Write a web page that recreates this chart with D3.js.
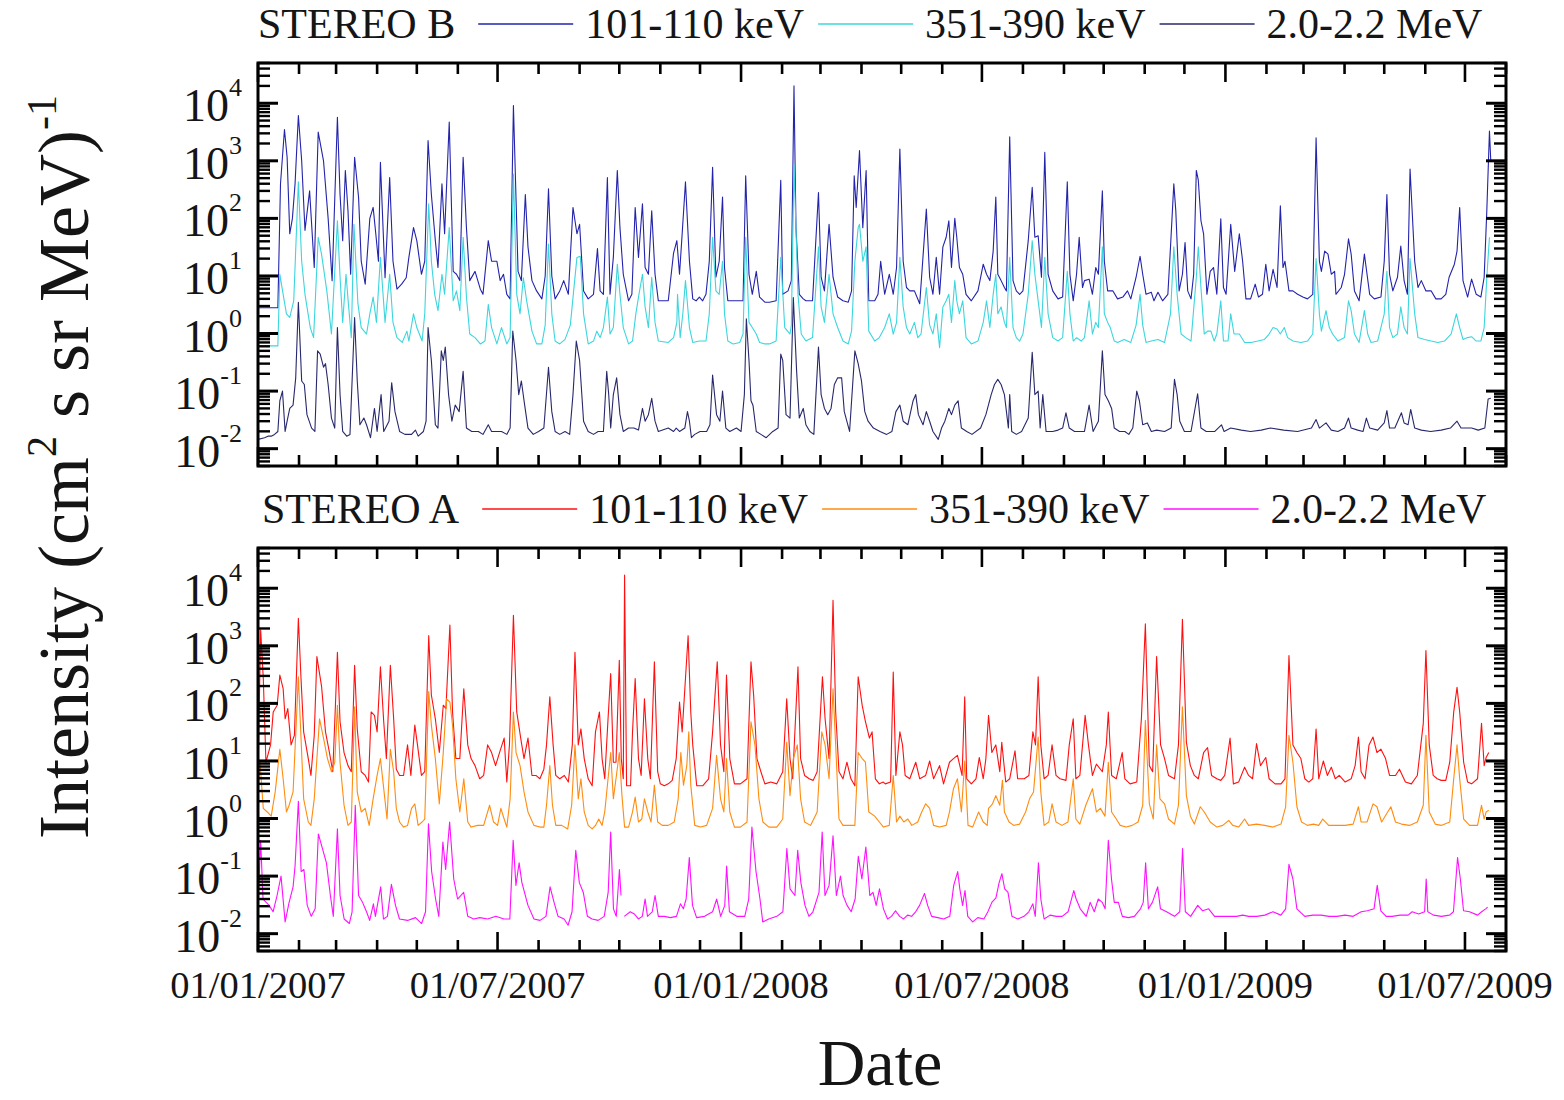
<!DOCTYPE html>
<html>
<head>
<meta charset="utf-8">
<script src="https://cdn.jsdelivr.net/npm/d3@7"></script>
<style>
  body { margin: 0; background: #fff; }
  svg { display: block; }
  text { font-family: "Liberation Serif", "Times New Roman", serif; fill: #151515; }
</style>
</head>
<body>
<svg id="chart" width="1564" height="1100"></svg>
<script>
// days since 01/01/2007, intensity (cm^2 s sr MeV)^-1
const T0 = Date.UTC(2007, 0, 1);
const T1 = Date.UTC(2009, 7, 1);

const xTickLabels = ['01/01/2007', '01/07/2007', '01/01/2008', '01/07/2008', '01/01/2009', '01/07/2009'];
const yDecades = [-2, -1, 0, 1, 2, 3, 4];

const channelNames = ['101-110 keV', '351-390 keV', '2.0-2.2 MeV'];

const stereoB_101 = [
  [0,2.8],[15,2.8],[17,400],[20,3500],[22,1150],[24,54],[26,100],[28,400],[30.5,6100],[33,1000],[35.5,62],[39,300],
  [42.5,14],[45.5,3150],[49.5,1000],[53,100],[56,8.3],[60,5700],[62,260],[64,41],[66,680],[68,135],[70,10.7],[73,1150],
  [76,230],[78,18],[81,7.2],[84.5,100],[87,155],[89,54],[91,18],[92.5,940],[96,9.3],[99.5,510],[102,18],[105,5.9],
  [108.5,7.2],[112,9.3],[114,21],[117.5,69],[120,41],[123.5,10.7],[126,18],[128.5,2240],[131,260],[134,41],[136,14],
  [139,400],[141,54],[144.5,4700],[147.5,12],[150,10.7],[152.5,8.3],[155,1150],[157.5,69],[160,8.3],[164,12],[168,5.9],
  [170,4.8],[174,41],[176.5,18],[180.5,18],[183,8.3],[185.5,10.7],[188,4.8],[190.5,4.0],[193,9100],[196.5,12],[199,8.3],
  [202,260],[204,32],[207,8.3],[210.5,5.5],[214.5,4.0],[217,10],[219.5,325],[222,10],[224.5,4.0],[228,5.5],[231,8.3],
  [234.5,4.8],[238,155],[241,54],[243,79],[246,5.5],[249.5,4.0],[253.5,4.8],[256.5,30],[258.5,5.5],[261,4.8],[264,510],
  [266,4.8],[268.5,21],[271.5,680],[273.5,69],[276,10.7],[280,3.7],[282.5,4.8],[285,155],[287.5,21],[290.5,180],
  [292.5,14],[295,10.7],[297.5,135],[300,10.7],[302.5,3.7],[310,3.7],[314,25],
  [316.5,41],[318.5,10.7],[320.5,54],[323,430],[326,18],[328.5,4.0],[331,3.7],[333.5,4.3],[336,3.7],[338.5,4.8],[341,18],
  [343.5,770],[346,9.5],[348.5,18],[351,235],[352.5,14],[355,3.7],[359,3.7],[364,3.7],[366.5,3.7],[368.5,550],[371,10.7],
  [373.5,4.8],[376.5,12],[379,4.3],[383,3.5],[386.5,3.5],[391.5,3.7],[395,460],[396.5,4.8],[400.5,5.5],[403,8.3],
  [405,20000],[406.5,69],[409,4.8],[412,4.0],[414,3.7],[419,3.7],[423.5,280],[425.5,9.5],[428,5.5],[431.5,79],[434.5,9.5],
  [438,4.3],[442,3.7],[446,3.5],[448.5,5.5],[450.5,550],[452,155],[454.5,1500],[457,69],[459.5,680],[461.5,3.7],[466,3.7],
  [468.5,4.8],[470.5,18],[473.5,4.8],[477,10.7],[480,4.8],[482.5,14],[485,1600],[487.5,18],[490,6.3],[492.5,5.5],
  [496,5.5],[500,3.3],[505,145],[507.5,9.5],[510,4.8],[512.5,21],[515,4.8],[517.5,32],[520,47],[522,91],[524,14],
  [526.5,100],[528,47],[530,14],[532.5,10.7],[535,4.8],[539,3.7],[544,5.5],[548,16],[550.5,10.7],[553,8.3],[555.5,27],
  [557.5,235],[559,10.7],[561.5,8.3],[564,6.3],[565.5,5.5],[568,2600],[570.5,8.3],[573,5.5],[575.5,4.8],[578,5.5],
  [582,41],[585,345],[587,47],[589.5,50],[592,9.5],[594.5,1400],[597,10.7],[600.5,5.5],[604.5,4.0],[608,4.3],
  [611.5,430],[613.5,10.7],[616,3.7],[618.5,10.7],[620.5,47],[623,6.3],
  [624.5,8.3],[628,8.8],[630.5,4.8],[633,14],[635,10.7],[638,300],[639.5,18],[642,5.5],[646,5.5],[649.5,4.0],[653.5,4.3],
  [657,5.5],[659.5,4.0],[663.5,9.5],[666.5,22],[668.5,10.7],[671,4.8],[675,5.2],[677,3.7],[680,5.2],[683.5,3.7],
  [687.5,4.8],[689.5,32],[692,400],[693.5,135],[696,5.5],[698.5,10.7],[700.5,38],[702.5,5.5],[705,4.0],[707,10.7],
  [709,680],[710.5,460],[712.5,91],[714.5,54],[717,4.8],[719.5,12],[722,14],[724.5,4.8],[727.5,98],[729.5,6.3],
  [731.5,4.8],[735,79],[738,12],[741.5,54],[744,18],[746.5,4.0],[750,4.0],[753.5,7.2],[756,4.3],[759,4.8],[761.5,16],
  [764,5.5],[767,13],[770,6.3],[772.5,165],[774.5,14],[776,18],[779,5.5],[782,5.5],[785.5,4.8],[789.5,4.3],[793,4.0],
  [797,4.8],[799.5,2500],[802,18],[803.5,12],[806,27],[808.5,24],[811,10.7],[813.5,12],[814.5,4.8],[818.5,6.3],
  [821,10.7],[824,44],[826,24],[828.5,5.5],[832,3.7],[836,24],[837,16],[840,4.8],[843.5,4.0],[848.5,4.3],[851,18],
  [853,260],[855,10.7],[857.5,5.5],[861,9.5],[863.5,33],[866,8.3],[868.5,4.8],[870.5,720],[874,18],[876.5,6.3],
  [879,8.3],[882.5,5.5],[886.5,5.5],[890,4.0],[894,4.0],[897.5,4.8],[900,9.5],[904,16],[906,27],[908,155],[910.5,8.3],
  [914,4.3],[917,8.8],[920.5,4.8],[924,4.3],[926.5,9.5],[928.5,135],[930.5,3300],[931.5,1000]
];

const stereoB_351 = [
  [0,0.61],[15,0.61],[16.5,10.7],[19,4.8],[21.5,2.2],[24,1.9],[27,3.7],[30.5,430],[33,18],[35.5,4.8],[39.5,1.27],
  [42,0.85],[45.5,47],[48,24],[52,5.5],[55.5,0.98],[60,91],[62,9.5],[64,1.56],[66.5,10.7],[68.5,2.9],[70.5,0.85],
  [72.5,79],[75.5,3.3],[78,1.27],[82,0.98],[84.5,2.2],[87,4.3],[89.5,1.56],[92.5,21],[96,1.56],[99.5,10.7],[102,1.56],
  [105,0.85],[109,0.7],[112.5,1.1],[114,0.74],[117.5,2.2],[120,1.27],[124,0.74],[126,2.2],[129,180],[131,18],
  [133.5,4.8],[136,2.5],[139,10.7],[141,4.8],[144.5,69],[147.5,3.7],[150,5.5],[152.5,2.5],[155,47],[157.5,4.3],
  [160,0.98],[164,0.85],[168,0.66],[171.5,0.74],[174,3.2],[176.5,1.27],[180.5,0.66],[184,1.27],[188,0.66],[190.5,0.85],
  [193,590],[195.5,4.8],[198,2.2],[200.5,9.3],[203,3.7],[207,1.1],[210.5,0.66],[214.5,0.66],[217,1.4],[219.5,36],
  [222,2.2],[224.5,0.74],[228,0.66],[232,0.79],[236,1.4],[238.5,5.5],[241,21],[243.5,22],[246,2.2],[249.5,0.66],
  [253.5,0.74],[256,1.1],[258.5,0.85],[261,1.27],[264,4.3],[266,0.98],[268.5,1.27],[271.5,16],[273.5,4.8],[276,1.27],
  [280,0.66],[283,0.74],[285.5,2.2],[287.5,4.3],[290.5,10.7],[292.5,2.9],[295,1.27],[297.5,9.5],[300,1.56],[302.5,0.74],
  [310,0.7],[314,0.85],
  [316.5,1.56],[317,4.8],[319,0.85],[321,2.2],[323,8.3],[326,1.27],[328.5,0.7],[333.5,0.74],[338.5,0.74],[341,2.2],
  [343.5,47],[346,5.5],[348.5,4.8],[351,18],[352.5,2.2],[355,0.74],[359,0.66],[364,0.7],[366.5,0.98],[368.5,47],
  [371,1.56],[373.5,1.27],[376.5,0.98],[379,0.7],[383,0.66],[386.5,0.66],[391.5,0.74],[395,21],[398,1.27],[402,0.98],
  [403,1.4],[405,870],[408,4.8],[410.5,0.98],[414,0.74],[419,0.85],[423.5,32],[425.5,2.9],[428,1.56],[431.5,10.7],
  [434.5,2.2],[438,1.27],[442,0.74],[446,0.66],[448.5,1.1],[451,18],[453.5,69],[454.5,79],[457,18],[459.5,32],
  [461.5,1.1],[466,0.74],[469.5,0.85],[473.5,1.27],[477,2.2],[480,0.98],[482.5,1.56],[485,21],[487.5,2.9],[490,1.27],
  [492.5,0.98],[496,1.56],[498.5,0.85],[501,0.98],[505,6.3],[507.5,1.4],[510,0.98],[512.5,2.2],[515,0.57],[517.5,2.9],
  [520,3.7],[522,4.8],[524,1.56],[526.5,8.3],[528,3.7],[530,2.2],[532.5,3.7],[535,0.85],[539,0.66],[544,0.74],
  [548,1.56],[550.5,3.7],[553,1.27],[555.5,4.8],[557.5,10.7],[559,2.2],[561.5,2.9],[564,1.56],[565.5,1.27],[568,21],
  [570.5,1.27],[573,0.85],[575.5,0.74],[578,0.98],[582,4.8],[585,41],[587,10.7],[589.5,3.7],[592,1.27],[594.5,21],
  [597,2.2],[600.5,0.85],[604.5,0.74],[608,0.85],[611.5,12],[613.5,2.2],[616,0.74],[618.5,0.85],[622,0.74],
  [624.5,0.85],[628,3.7],[630.5,0.98],[633,1.56],[635,1.27],[638,32],[639.5,2.2],[642,1.56],[644,1.27],[647,0.74],
  [649.5,0.7],[654.5,0.79],[659.5,0.7],[663.5,1.4],[666.5,4.8],[668.5,1.4],[671,0.7],[675,0.74],[680,0.79],[685,0.7],
  [689.5,2.2],[692,32],[694.5,4.8],[697.5,0.98],[701,0.85],[705,0.74],[709,9.5],[710.5,32],[712.5,6.3],[715,0.98],
  [717.5,1.1],[720,1.1],[722.5,0.74],[724.5,0.98],[727.5,3.7],[729.5,0.74],[733,0.74],[735,2.2],[737.5,0.98],
  [741.5,0.98],[745.5,0.7],[750.5,0.7],[755.5,0.74],[760.5,0.79],[764,0.98],[767,1.27],[770,1.2],[772.5,0.98],
  [775.5,1.27],[778,0.85],[782,0.74],[788,0.7],[793,0.74],[797,0.98],[799.5,20],[802,2.2],[803.5,1.1],[807,2.5],
  [809.5,1.27],[812,0.98],[816,0.74],[821,0.85],[824,3.7],[826,2.5],[828.5,0.98],[832,0.7],[836,2.5],[838.5,0.98],
  [841,0.7],[846,0.74],[851,2.2],[853,12],[855,1.27],[857.5,0.85],[861,0.98],[863.5,2.9],[866,1.27],[868.5,0.98],
  [870.5,20],[874,2.2],[876.5,0.85],[881.5,0.79],[886.5,0.74],[891.5,0.7],[896.5,0.74],[901.5,0.98],[905.5,2.2],
  [908,1.27],[910.5,0.79],[914,0.85],[917,0.88],[920.5,0.74],[924,0.74],[926.5,1.27],[928.5,9.5],[930.5,47]
];

const stereoB_2MeV = [
  [0,0.0145],[5,0.0155],[7.5,0.0165],[10,0.0165],[12.5,0.0177],[15,0.0199],[16.5,0.068],[18.5,0.1],[20.5,0.0199],
  [22,0.03],[24,0.05],[26.5,0.057],[28.5,0.17],[30.5,3.5],[33,0.15],[35,0.13],[37,0.039],[40.5,0.0228],[43,0.0199],
  [45,0.5],[47,0.44],[49.5,0.26],[51,0.3],[53,0.13],[55.5,0.034],[58,0.0228],[60,1.27],[62,0.087],[64,0.0199],
  [67,0.0165],[69.5,0.0177],[73,1.9],[75,0.15],[77,0.026],[80,0.034],[82,0.026],[85,0.0155],[88,0.05],[90,0.0199],
  [93,0.087],[95,0.0199],[99,0.03],[101,0.14],[103.5,0.044],[107,0.0199],[111,0.0177],[116,0.0177],[119,0.021],
  [121,0.0165],[125,0.0199],[127,0.03],[128.5,1.27],[131,0.34],[134,0.026],[136,0.0228],[138.5,0.5],[140,0.34],
  [141.5,0.58],[144,0.087],[146.5,0.03],[149,0.057],[152,0.044],[155,0.22],[157.5,0.0228],[161.5,0.0199],[166.5,0.0199],
  [170,0.0177],[174,0.026],[176.5,0.0199],[180.5,0.0199],[184,0.0199],[188,0.0177],[190.5,0.0228],[192.5,1.1],
  [195,0.34],[197,0.087],[199,0.15],[201.5,0.057],[204,0.0228],[208,0.0177],[212,0.0199],[216,0.0228],[219.5,0.26],
  [222,0.044],[224.5,0.0199],[228,0.0177],[232,0.0199],[235.5,0.0177],[238,0.087],[240.5,0.74],[243,0.34],[246,0.03],
  [249.5,0.0199],[253.5,0.0177],[257,0.0199],[261,0.0199],[263.5,0.22],[265,0.087],[266.5,0.0228],[268.5,0.087],
  [271,0.17],[273.5,0.039],[276,0.0199],[280,0.0228],[284,0.0228],[287.5,0.021],[290.5,0.05],[292.5,0.03],[295,0.039],
  [297.5,0.075],[300,0.03],[302.5,0.0199],[310,0.0228],[314,0.0199],
  [316,0.0228],[318.5,0.0199],[322.5,0.0228],[324.5,0.044],[326,0.03],[327.5,0.0155],[330,0.0177],[334,0.0199],
  [339,0.0199],[341.5,0.026],[343.5,0.19],[346.5,0.039],[349,0.03],[351,0.1],[353.5,0.0228],[356.5,0.0199],
  [361.5,0.0228],[365,0.0199],[367.5,0.087],[369,1.8],[371,0.34],[372.5,0.068],[374,0.057],[376.5,0.0199],[380,0.0177],
  [384,0.0155],[389,0.0199],[393,0.0228],[395,0.44],[396.5,0.34],[399,0.039],[402,0.034],[404.5,4.2],[407,0.22],
  [409,0.034],[412,0.05],[414,0.026],[417,0.0199],[420,0.0177],[423.5,0.58],[425.5,0.087],[428,0.05],[430.5,0.039],
  [433,0.05],[435.5,0.13],[438,0.17],[441,0.17],[443,0.044],[447,0.0199],[451,0.5],[453.5,0.3],[456,0.15],[458.5,0.044],
  [461,0.03],[465,0.0228],[470,0.0199],[475,0.0177],[479,0.0199],[482,0.044],[485,0.057],[487.5,0.03],[491,0.026],
  [495,0.068],[497,0.087],[499,0.039],[502.5,0.026],[505,0.044],[507.5,0.03],[510,0.0199],[514,0.0145],[516.5,0.0228],
  [519,0.03],[522,0.05],[524,0.039],[526.5,0.057],[529,0.068],[531.5,0.0228],[535.5,0.0199],[539.5,0.0177],
  [546,0.0228],[550,0.039],[554,0.087],[556.5,0.13],[559,0.16],[561.5,0.13],[564,0.087],[567,0.0228],[568,0.087],
  [569.5,0.0199],[573,0.0177],[577,0.0199],[582,0.034],[585,0.47],[587,0.087],[589.5,0.1],[591,0.0228],[593,0.087],
  [595.5,0.0199],[600.5,0.0199],[604.5,0.021],[608,0.0228],[610.5,0.042],[613,0.0228],[617,0.0199],[622,0.0199],
  [624.5,0.0199],[628,0.057],[631,0.0199],[635,0.03],[638,0.5],[640,0.087],[642.5,0.068],[645,0.05],[647,0.0228],
  [651,0.0199],[655,0.0199],[658,0.0177],[661,0.0228],[664,0.1],[666,0.068],[668.5,0.026],[672,0.028],[675,0.0199],
  [679,0.021],[685,0.0199],[690,0.0228],[692.5,0.16],[694.5,0.087],[696.5,0.03],[700,0.0199],[705,0.0199],[710,0.09],
  [712.5,0.0228],[716.5,0.0199],[723,0.0199],[728,0.026],[730,0.0199],[735,0.0228],[743,0.021],[750,0.0199],
  [758,0.021],[765,0.0228],[775,0.021],[785.5,0.0199],[796,0.0228],[799.5,0.032],[802,0.0228],[807,0.028],[811,0.021],
  [816,0.0199],[821,0.0228],[824,0.034],[826,0.0228],[831,0.021],[835,0.0199],[837.5,0.034],[840,0.0228],[846,0.021],
  [851,0.028],[853,0.046],[855,0.0228],[859,0.0228],[864,0.042],[866,0.028],[869,0.026],[871,0.048],[874,0.0228],
  [879,0.021],[886,0.0199],[894,0.021],[901,0.0228],[906,0.03],[909,0.0228],[917,0.0228],[922,0.021],[927,0.0228],
  [929.5,0.073],[931.5,0.075]
];

const stereoA_101 = [
  [0,5.6],[2,1900],[4,270],[6,9.5],[9.5,19],[11.5,71],[14.5,93],[16.5,310],[19,180],[20.5,54],[22.5,81],[25,19],
  [27.5,28],[30.5,3000],[32.5,270],[34.5,32],[38,11],[40,5.6],[42.5,28],[44.5,650],[48,200],[51,32],[54,14],[56.5,6.5],
  [58.5,93],[60,770],[62,48],[65,14],[68,8.3],[70.5,6.5],[73,460],[75,36],[78,6.5],[81,5.6],[83.5,4.3],[85.5,71],
  [88,62],[90,32],[92.5,430],[95,48],[97,11],[100,460],[102.5,54],[104.5,7.2],[107,5.6],[110,5.6],[113,19],[115.5,5.6],
  [118.5,42],[120.5,19],[123.5,5.6],[126,6.5],[129,1500],[131,140],[134,54],[137,14],[140,93],[142,81],[145,2300],
  [147,71],[149.5,11],[152.5,11],[155.5,180],[158.5,19],[161,11],[164,8.3],[167.5,4.9],[170.5,5.6],[173.5,19],
  [176.5,14],[179.5,8.3],[182.5,14],[186,25],[188,4.3],[190,19],[193,3400],[195.5,71],[198.5,25],[201,11],[204,25],
  [207,5.6],[210,5.6],[213,4.9],[216,7.2],[218,19],[220.5,130],[223,19],[225,5.6],[228,4.9],[231.5,5.6],[234.5,4.3],
  [237.5,19],[239.5,770],[242,19],[244,36],[246.5,11],[249.5,4.9],[252.5,3.7],[255,32],[258,71],[260,11],[262,4.9],
  [264.5,54],[266.5,330],[268.5,9.5],[270.5,9.5],[273,560],[274.5,11],[276,4.9],[277,17000],[278.5,3.7],[281.5,3.7],
  [283,32],[285,270],[287.5,11],[289.5,5.6],[292,120],[294.5,11],[296.5,4.9],[299.5,530],[302,6.5],[304,4.0],[307,3.7],
  [310,4.0],[313,4.6],[316,11],[318.5,105],[320.5,32],[323,270],[325,1500],[327,71],[328.5,19],[331.5,3.7],[336,3.7],
  [340.5,4.9],[343.5,32],[347,530],[349.5,19],[352,6.5],[354,310],[356.5,11],[360,4.0],[364.5,4.0],[369.5,4.9],
  [372.5,530],[374.5,140],[377,11],[380,6.5],[383,4.0],[387.5,4.3],[392,4.0],[396.5,6.5],[399.5,120],[402,11],[404,4.9],
  [408,430],[410,11],[413,5.6],[416.5,4.9],[419.5,4.6],[422.5,6.5],[426.5,290],[428.5,54],[431.5,11],[434.5,6200],
  [436.5,71],[439,6.5],[442,4.9],[445,9.5],[448,4.9],[451,3.7],[453.5,290],[456.5,93],[459,48],[462,25],[464,32],
  [466.5,4.9],[469.5,4.0],
  [472.5,4.3],[474,4.0],[478,4.3],[480,350],[482,5.6],[485,32],[487,19],[489,5.6],[492.5,4.9],[497,9.5],[500,4.9],
  [504.5,5.6],[507.5,10],[510.5,4.9],[515,8.3],[518,4.0],[522.5,9.5],[525.5,11],[528.5,12.5],[532,5.6],[534,130],
  [535.5,4.9],[539,4.0],[542.5,4.9],[545,11.5],[548,4.9],[550,11],[552,62],[554.5,14],[557.5,19],[560.5,6.5],[562,21],
  [565,4.3],[568,4.9],[572,15],[574,4.9],[579,4.9],[582.5,5.6],[585.5,32],[587.5,19],[589.5,290],[591.5,19],[594,4.9],
  [597,5.6],[600,19],[603,5.6],[606,4.9],[610.5,4.6],[613,19],[616,54],[618,4.9],[621,5.6],[625,62],[627.5,19],
  [630.5,5.6],[633.5,8.8],[638,6.5],[641,19],[642.5,71],[645,5.6],[648.5,4.9],[653,14],[655,4.9],[659,4.0],[664,4.3],
  [667.5,54],[670.5,2400],[673.5,8.3],[676,6.5],[679,650],[682,19],[685,11],[688,5.6],[692.5,4.9],[695.5,19],
  [698.5,2900],[701.5,21],[704.5,8.3],[707.5,5.6],[710.5,4.9],[714.5,14],[717.5,17],[720.5,5.6],[724.5,4.9],
  [727.5,4.6],[730.5,5.6],[734.5,25],[737,4.0],[741,4.3],[745.5,7.8],[748.5,5.6],[751.5,4.9],[754.5,20],[757.5,8.3],
  [761.5,11.5],[764,4.9],[768.5,4.0],[773,4.0],[776,4.9],[779,680],[782,19],[785,14],[788,11],[791,4.9],[794,4.3],
  [797,4.9],[799.5,36],[801.5,4.9],[805,10],[808,5.6],[811,7.8],[814,4.9],[817,5.6],[821.5,4.3],[826,4.9],[829,8.3],
  [831.5,26],[833.5,6.5],[836.5,4.9],[839.5,19],[842.5,26],[845.5,14],[848.5,16],[852,11],[855,5.6],[859.5,5.6],
  [862.5,7.2],[867,4.3],[871.5,4.0],[876,5.6],[880.5,45],[882.5,830],[885,19],[888,5.6],[891,4.9],[894,4.6],
  [897.5,4.6],[900.5,9.5],[903.5,71],[906,190],[908,71],[911,9.5],[914,4.3],[917,4.0],[921.5,4.9],[924.5,45],
  [926.5,8.3],[928,11.5],[930,14]
];

const stereoA_351 = [
  [0,2.2],[1.5,9.5],[4,1.5],[7,1.3],[10,1.1],[13,2.9],[16.5,16],[19,4.9],[21.5,1.3],[23.5,1.7],[26.5,2.9],[30.5,290],
  [32.5,25],[34.5,2.2],[38,0.87],[40,0.76],[42.5,2.2],[46.5,54],[49.5,25],[52.5,11],[55.5,6.5],[58,9.5],[60,93],
  [62,9.5],[65,1.7],[68,0.76],[70.5,0.87],[73,87],[75,2.9],[78,1.3],[81,1.5],[84,0.76],[87,2.2],[90,5.6],[92.5,11],
  [95,3.3],[97.5,0.98],[100,16],[102.5,6.5],[104.5,1.5],[107,0.87],[110,0.71],[113,0.76],[116,1.5],[118.5,1.8],
  [121,0.76],[124,0.87],[126,0.98],[129,160],[131,42],[134,11],[137,1.8],[140,14],[142.5,120],[145,105],[147,42],
  [149.5,4.9],[152.5,1.3],[155.5,4.9],[158.5,0.87],[161,0.71],[166,0.76],[170.5,0.76],[175,1.7],[178,0.87],[181,0.76],
  [183.5,1.5],[186,0.98],[188,0.71],[190.5,2.2],[193,71],[195,14],[198,8.3],[201,2.9],[204,1.3],[208.5,0.76],[213,0.71],
  [216,0.71],[218,1.7],[220.5,8.3],[222.5,1.7],[225,0.76],[229.5,0.76],[234,0.66],[237,1.7],[239.5,19],[242,2.2],
  [244,4.9],[246.5,1.3],[249.5,0.76],[252.5,0.66],[255,0.76],[257.5,0.98],[260,0.76],[262,1.3],[264.5,4.9],[266.5,14],
  [268.5,2.2],[270.5,4.9],[273,14],[275,2.5],[277,0.71],[280,0.71],[283,1.3],[285,2.35],[287.5,0.87],[290,0.98],
  [292,2.2],[294.5,1.3],[297,0.87],[299.5,3.8],[302,0.87],[305.5,0.76],[310,0.76],[314.5,0.87],[317.5,2.2],[319.5,14],
  [321.5,3.8],[324,8.3],[325.5,32],[327,3.8],[330,0.76],[334.5,0.71],[339,0.76],[343.5,1.5],[346.5,12.5],[349.5,2.2],
  [352,1.3],[354,11],[356.5,1.3],[360,0.71],[364.5,0.71],[369.5,0.87],[372.5,48],[375.5,19],[378.5,2.2],[381.5,0.87],
  [386,0.71],[392,0.71],[396.5,0.98],[399.5,21],[402,2.5],[404.5,11],[407.5,19],[410,2.2],[413,0.87],[417.5,0.76],
  [422.5,1.3],[426,32],[428.5,19],[431.5,4.9],[434.5,180],[436.5,19],[439,0.98],[442,0.76],[446.5,0.76],[451,0.76],
  [453.5,14],[456.5,11],[459,9.5],[461.5,1.3],[466,1.1],[469.5,0.87],
  [472.6,0.71],[477,0.76],[480,5.6],[482.5,0.87],[485,1.1],[488,0.87],[491,0.98],[494,0.76],[498.5,0.87],[501.5,1.3],
  [504.5,1.8],[507.5,1.5],[510.5,0.76],[515,0.71],[520,0.76],[522.5,1.3],[525.5,3.3],[528.5,4.9],[531.5,1.3],[534,10],
  [536.5,0.76],[540,0.71],[544.5,1.3],[548,0.87],[551,0.76],[552,1.5],[555,1.8],[557.5,2.5],[560.5,1.7],[562.5,4.6],
  [564,1.3],[567.5,0.87],[571,0.76],[575.5,0.8],[580,1.3],[583,2.2],[586,2.9],[589.5,26],[591.5,2.9],[594,0.76],
  [597.5,0.87],[600,1.8],[603,0.87],[607.5,0.76],[612,0.87],[616,4.9],[618,0.98],[621,0.8],[625.5,1.7],[630.5,3.3],
  [633.5,1.3],[636.5,1.5],[640,1.1],[642.5,9.5],[645,1.3],[648.5,0.98],[651.5,0.76],[656,0.71],[660.5,0.76],[665,0.87],
  [668.5,1.7],[670.5,51],[673.5,1.8],[676.5,0.98],[679,19],[681.5,2.2],[685,1.8],[688,0.98],[692.5,0.8],[695.5,1.7],
  [698.5,87],[701.5,2.5],[704.5,1.1],[707.5,0.8],[712,1.6],[715,1.3],[719.5,0.87],[724.5,0.71],[729,0.76],[733.5,0.93],
  [736.5,0.76],[741,0.71],[745.5,0.98],[748.5,0.76],[754.5,0.8],[760.5,0.76],[767,0.71],[773,0.8],[776.5,1.6],[779,28],
  [782,9.5],[785,1.6],[788.5,0.87],[793,0.76],[797.5,0.8],[801.5,0.76],[804.5,0.98],[809,0.76],[815,0.76],[821.5,0.76],
  [827.5,0.8],[831.5,1.6],[833.5,0.87],[838,0.87],[842.5,1.8],[845.5,1.6],[849,0.87],[856,1.6],[859.5,0.87],[864,0.8],
  [870,0.76],[876,0.87],[880.5,1.7],[882.5,28],[885,1.3],[889.5,0.8],[894,0.76],[900.5,0.87],[903.5,4.9],[906,19],
  [908,4.9],[911,0.98],[915.5,0.76],[921.5,0.76],[924.5,1.7],[926.5,0.98],[928,1.3],[930,1.4]
];

// null marks the short data gap
const stereoA_2MeV = [
  [0,0.027],[2,0.42],[3.8,0.04],[6.2,0.035],[8.4,0.031],[11.4,0.024],[14.4,0.046],[17.4,0.1],[20.5,0.016],[23.5,0.035],
  [26.5,0.065],[28,0.15],[30.5,2.0],[32.6,0.12],[34.7,0.13],[37.2,0.031],[40.2,0.02],[43.2,0.027],[45.6,0.54],[48.7,0.3],
  [51.7,0.17],[54.7,0.046],[56.9,0.02],[60,0.66],[62,0.046],[65.1,0.018],[69,0.015],[71.1,0.024],[73.5,1.7],[76,0.046],
  [79,0.035],[82,0.024],[84.4,0.017],[87.2,0.033],[88.7,0.02],[92.7,0.065],[94.8,0.018],[97.8,0.02],[100.8,0.072],
  [103.9,0.031],[106.9,0.018],[113,0.017],[119,0.019],[123.6,0.015],[126.6,0.024],[128.8,0.81],[131.2,0.12],[134.2,0.04],
  [136.6,0.02],[139.7,0.39],[141.8,0.13],[144.8,0.87],[147.9,0.089],[150.8,0.04],[155.4,0.052],[158.5,0.02],[163,0.018],
  [167.6,0.019],[173.6,0.018],[179.7,0.02],[185.8,0.018],[190.3,0.018],[192.8,0.42],[194.9,0.069],[197.3,0.17],
  [199.4,0.077],[204,0.031],[208.5,0.018],[213.1,0.017],[217.6,0.02],[220.7,0.065],[223.7,0.035],[226.7,0.02],
  [231.3,0.018],[234.3,0.014],[237.3,0.024],[240.1,0.28],[242.8,0.077],[245.8,0.052],[248.9,0.02],[252.5,0.018],
  [257,0.017],[261.6,0.02],[264.6,0.052],[266.5,0.58],[268.6,0.027],[270.7,0.02],[273.1,0.13],[274.3,0.046],[275.5,null],
  [276.8,0.02],[281.3,0.024],[284.3,0.022],[287.4,0.018],[290.4,0.02],[292.5,0.04],[294.3,0.02],[297.9,0.024],[300,0.046],
  [302.5,0.02],[307.1,0.02],[311.6,0.019],[316.2,0.02],[319.2,0.033],[321.4,0.027],[323.5,0.04],[325.9,0.21],[328.3,0.031],
  [331.4,0.019],[337.4,0.02],[343.5,0.024],[346.6,0.04],[349.6,0.02],[352.7,0.031],[354.1,0.15],[356.2,0.024],
  [361.7,0.02],[367.8,0.02],[370.8,0.04],[373.2,0.71],[376.3,0.12],[379.3,0.04],[381.4,0.016],[385.9,0.018],[392,0.02],
  [396.6,0.024],[399.6,0.3],[402,0.06],[405.7,0.046],[407.8,0.28],[410.2,0.077],[413.3,0.031],[416.3,0.02],[419.3,0.024],
  [423.9,0.052],[426.3,0.58],[428.4,0.046],[431.5,0.069],[434.5,0.5],[437,0.046],[440.1,0.1],[442.1,0.046],[445.1,0.031],
  [448.2,0.024],[451.2,0.04],[453.6,0.22],[456.3,0.089],[459.3,0.32],[462.3,0.046],[464.7,0.052],[467.1,0.031],
  [469.6,0.06],[472.6,0.027],[475.7,0.018],[478.7,0.02],[481.7,0.025],[484.8,0.02],[487.8,0.018],[490.8,0.021],
  [493.9,0.02],[496.9,0.024],[499.9,0.031],[503.6,0.05],[506,0.031],[509,0.02],[513.6,0.019],[518.1,0.018],[522.7,0.02],
  [525.7,0.069],[528.7,0.12],[530.3,0.06],[532.4,0.031],[534.2,0.056],[536.3,0.02],[540,0.016],[543.9,0.019],
  [548.5,0.018],[551.5,0.024],[554.5,0.035],[557.6,0.042],[560,0.077],[562.1,0.11],[564.2,0.06],[566.7,0.052],
  [569.7,0.02],[574.2,0.018],[578.8,0.02],[582.4,0.024],[585.5,0.033],[587.3,0.02],[589.7,0.17],[591.5,0.04],[594,0.018],
  [598.5,0.021],[603.1,0.02],[607.6,0.02],[612.1,0.024],[616.4,0.056],[618.2,0.04],[621.3,0.027],[625.8,0.02],
  [628.8,0.035],[631.9,0.024],[634.9,0.04],[637.9,0.035],[640.1,0.027],[642.5,0.42],[644.9,0.089],[647,0.035],
  [650.1,0.035],[653.1,0.02],[657.6,0.019],[662.2,0.02],[666.8,0.027],[668.9,0.035],[670.7,0.17],[672.8,0.027],
  [675.8,0.035],[679.8,0.065],[681.9,0.027],[686.5,0.024],[692.5,0.02],[696.5,0.024],[698.6,0.3],[700.7,0.024],
  [704.7,0.02],[710.1,0.031],[713.8,0.025],[718.3,0.027],[722.8,0.02],[727.4,0.02],[733.5,0.02],[739.5,0.02],[744,0.021],
  [748.6,0.02],[754.7,0.02],[760.8,0.021],[766.9,0.024],[772.9,0.021],[776.5,0.027],[779,0.16],[782,0.089],[785,0.027],
  [791,0.02],[797.2,0.021],[803.2,0.021],[809.3,0.02],[815.3,0.02],[821.4,0.021],[827.5,0.02],[833.6,0.024],
  [838.2,0.025],[843.3,0.027],[845.7,0.069],[848.4,0.025],[852.4,0.02],[857,0.02],[863,0.021],[869,0.021],[872.1,0.024],
  [877,0.022],[881.5,0.024],[882.7,0.089],[883.9,0.024],[888.2,0.021],[894.2,0.02],[900.3,0.021],[903.3,0.024],
  [906.4,0.21],[908.5,0.089],[910.9,0.025],[915.4,0.024],[921.5,0.021],[924.6,0.024],[927.6,0.027],[929.1,0.029]
];

const svg = d3.select('#chart');
const X0 = 258, X1 = 1506, PH = 403;

const x = d3.scaleUtc().domain([new Date(T0), new Date(T1)]).range([X0, X1]);
const dayToDate = d => new Date(T0 + d * 864e5);

const panels = [
  { top: 63, label: 'STEREO B', labelX: 258, legendY: 38,
    series: [stereoB_101, stereoB_351, stereoB_2MeV], colors: ['#2323ac', '#3cd6de', '#28286c'] },
  { top: 548, label: 'STEREO A', labelX: 262, legendY: 523,
    series: [stereoA_101, stereoA_351, stereoA_2MeV], colors: ['#ff1010', '#ff8c10', '#ff10ff'] }
];

const months = d3.utcMonth.range(new Date(T0), new Date(T1 + 1));

panels.forEach((p, pi) => {
  const y = d3.scaleLog().domain([5e-3, 5e4]).range([p.top + PH, p.top]);
  const g = svg.append('g');

  g.append('clipPath').attr('id', 'clip' + pi)
    .append('rect').attr('x', X0).attr('y', p.top).attr('width', X1 - X0).attr('height', PH);

  const line = d3.line()
    .defined(d => d[1] != null)
    .x(d => x(dayToDate(d[0])))
    .y(d => y(d[1]));

  p.series.forEach((s, i) => {
    g.append('path')
      .attr('clip-path', `url(#clip${pi})`)
      .attr('d', line(s))
      .attr('fill', 'none')
      .attr('stroke', p.colors[i])
      .attr('stroke-width', 1.1)
      .attr('stroke-linejoin', 'round');
  });

  // x ticks, monthly, inward top and bottom
  months.forEach(m => {
    const major = m.getUTCMonth() % 6 === 0;
    const len = major ? 19 : 11;
    const xp = x(m);
    g.append('line').attr('x1', xp).attr('x2', xp).attr('y1', p.top).attr('y2', p.top + len)
      .attr('stroke', '#000').attr('stroke-width', 2.6);
    g.append('line').attr('x1', xp).attr('x2', xp).attr('y1', p.top + PH).attr('y2', p.top + PH - len)
      .attr('stroke', '#000').attr('stroke-width', 2.6);
  });

  // y ticks, decades + minor
  for (let e = -3; e <= 4; e++) {
    for (let m = 1; m <= 9; m++) {
      const v = m * Math.pow(10, e);
      if (v < 5e-3 || v > 5e4) continue;
      const yp = y(v);
      const len = m === 1 ? 20 : 12;
      g.append('line').attr('x1', X0).attr('x2', X0 + len).attr('y1', yp).attr('y2', yp)
        .attr('stroke', '#000').attr('stroke-width', m === 1 ? 3 : 2.4);
      g.append('line').attr('x1', X1).attr('x2', X1 - len).attr('y1', yp).attr('y2', yp)
        .attr('stroke', '#000').attr('stroke-width', m === 1 ? 3 : 2.4);
    }
  }

  yDecades.forEach(e => {
    const yp = y(Math.pow(10, e));
    const t = g.append('text').attr('x', 242).attr('y', yp + 18).attr('text-anchor', 'end')
      .style('font-size', '46px');
    t.append('tspan').text('10');
    t.append('tspan').attr('dy', -25).style('font-size', '26px').text(String(e));
  });

  g.append('rect').attr('x', X0).attr('y', p.top).attr('width', X1 - X0).attr('height', PH)
    .attr('fill', 'none').attr('stroke', '#000').attr('stroke-width', 3);

  // legend
  const lg = svg.append('g').style('font-size', '42px');
  const head = lg.append('text').attr('x', p.labelX).attr('y', p.legendY).text(p.label);
  let cx = p.labelX + head.node().getComputedTextLength() + 23;
  channelNames.forEach((name, i) => {
    lg.append('line').attr('x1', cx).attr('x2', cx + 95).attr('y1', p.legendY - 14).attr('y2', p.legendY - 14)
      .attr('stroke', p.colors[i]).attr('stroke-width', 1.3);
    const t = lg.append('text').attr('x', cx + 107).attr('y', p.legendY).text(name);
    cx += 107 + t.node().getComputedTextLength() + 14;
  });

  if (pi === 1) {
    xTickLabels.forEach((lab, i) => {
      const d = new Date(Date.UTC(2007 + Math.floor(i / 2), (i % 2) * 6, 1));
      svg.append('text').attr('x', x(d)).attr('y', 998).attr('text-anchor', 'middle')
        .style('font-size', '38.5px').text(lab);
    });
  }
});

// axis titles
const yt = svg.append('text')
  .attr('transform', 'translate(88,467) rotate(-90)')
  .attr('text-anchor', 'middle')
  .style('font-size', '72px');
yt.append('tspan').text('Intensity (cm');
yt.append('tspan').attr('dy', -32).style('font-size', '42px').text('2');
yt.append('tspan').attr('dy', 32).text(' s sr MeV)');
yt.append('tspan').attr('dy', -32).style('font-size', '42px').text('-1');

svg.append('text').attr('x', 880).attr('y', 1085).attr('text-anchor', 'middle')
  .style('font-size', '66px').text('Date');
</script>
</body>
</html>
